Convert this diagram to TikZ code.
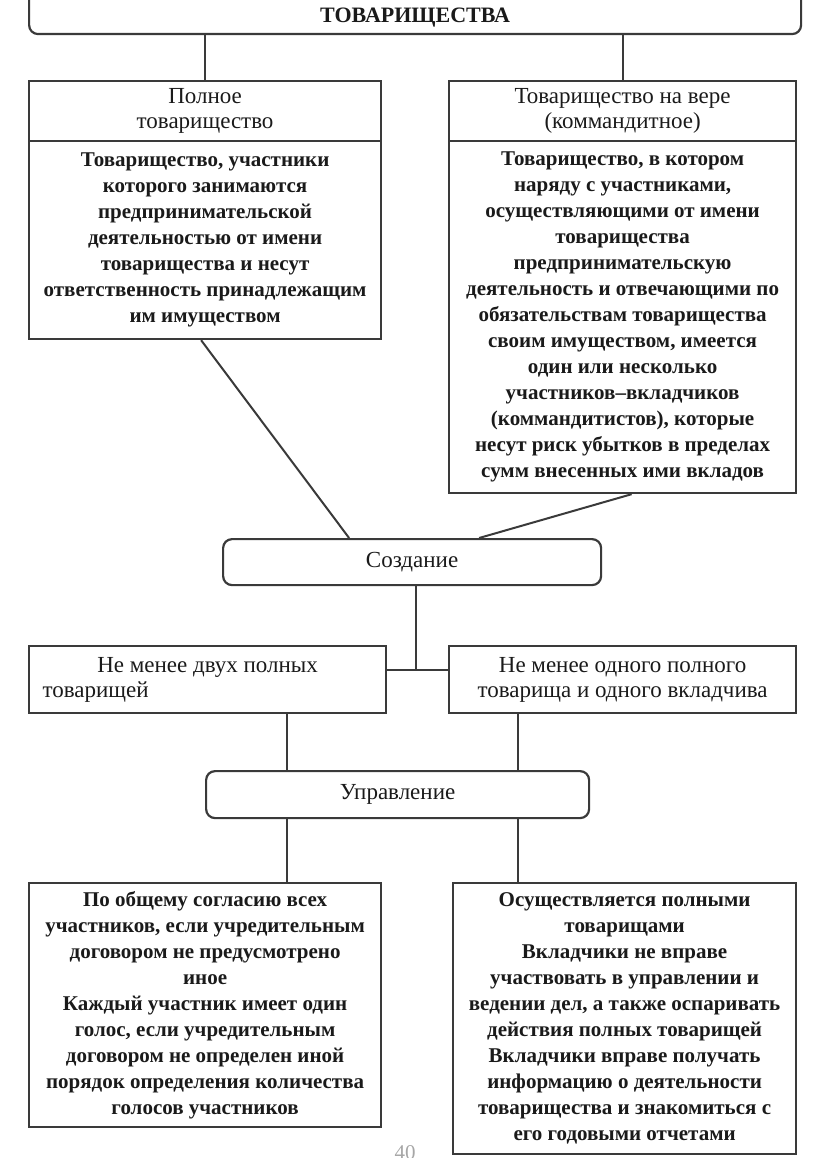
\documentclass[tikz,border=0pt]{standalone}
\usepackage{fontspec}
\setmainfont{Liberation Serif}
\usetikzlibrary{calc}
\definecolor{edge}{HTML}{3A3A3A}
\definecolor{ink}{HTML}{1A1A1A}
\begin{document}
\begin{tikzpicture}[x=1pt,y=-1pt,
  box/.style={draw=edge,line width=2.2pt,text=ink,inner sep=0pt,align=center,anchor=north west},
  rbox/.style={box,rounded corners=9pt},
  hdr/.style={font=\fontsize{23}{25}\selectfont},
  body/.style={font=\fontsize{21}{26}\selectfont\bfseries},
  conn/.style={draw=edge,line width=2pt}]
\useasboundingbox (0,0) rectangle (816,1158);
% top
\node[rbox,minimum width=772pt,minimum height=63pt,text height=43pt,text depth=4pt,font=\fontsize{22}{26}\selectfont\bfseries] (top) at (28,-30) {ТОВАРИЩЕСТВА};
% headers
\node[box,hdr,minimum width=352pt,minimum height=60pt] (h1) at (28,80) {Полное\\товарищество};
\node[box,hdr,minimum width=347pt,minimum height=60pt] (h2) at (448,80) {Товарищество на вере\\(коммандитное)};
% bodies
\node[box,body,minimum width=352pt,minimum height=198pt] (b1) at (28,140) {Товарищество, участники\\которого занимаются\\предпринимательской\\деятельностью от имени\\товарищества и несут\\ответственность принадлежащим\\им имуществом};
\node[box,body,minimum width=347pt,minimum height=352pt] (b2) at (448,140) {Товарищество, в котором\\наряду с участниками,\\осуществляющими от имени\\товарищества\\предпринимательскую\\деятельность и отвечающими по\\обязательствам товарищества\\своим имуществом, имеется\\один или несколько\\участников--вкладчиков\\(коммандитистов), которые\\несут риск убытков в пределах\\сумм внесенных ими вкладов};
% Создание
\node[rbox,hdr,minimum width=378pt,minimum height=46pt] (cr) at (222,538) {Создание};
% conditions
\node[box,hdr,minimum width=357pt,minimum height=67pt] (c1) at (28,645) {\begin{tabular}{@{}l@{}}\makebox[330pt][c]{Не менее двух полных}\\товарищей\end{tabular}};
\node[box,hdr,minimum width=347pt,minimum height=67pt] (c2) at (448,645) {Не менее одного полного\\товарища и одного вкладчива};
% Управление
\node[rbox,hdr,minimum width=383pt,minimum height=47pt] (u) at (205,770) {Управление};
% bottom
\node[box,body,minimum width=352pt,minimum height=244pt] (d1) at (28,882) {По общему согласию всех\\участников, если учредительным\\договором не предусмотрено\\иное\\Каждый участник имеет один\\голос, если учредительным\\договором не определен иной\\порядок определения количества\\голосов участников};
\node[box,body,minimum width=343pt,minimum height=271pt] (d2) at (452,882) {Осуществляется полными\\товарищами\\Вкладчики не вправе\\участвовать в управлении и\\ведении дел, а также оспаривать\\действия полных товарищей\\Вкладчики вправе получать\\информацию о деятельности\\товарищества и знакомиться с\\его годовыми отчетами};
\node[text=gray!70,font=\fontsize{21}{22}\selectfont,anchor=north,inner sep=0pt] (pg) at (405,1145) {40};
% connectors
\coordinate (j) at (416,670);
\coordinate (l1) at (287,0);
\coordinate (l2) at (518,0);
\draw[conn] (h1.north) -- (h1.north |- top.south);
\draw[conn] (h2.north) -- (h2.north |- top.south);
\draw[conn] ([xshift=-4pt]b1.south) -- ([xshift=-63pt]cr.north);
\draw[conn] ([xshift=9pt]b2.south) -- ([xshift=67pt]cr.north);
\draw[conn] (cr.south -| j) -- (j);
\draw[conn] (c1.east |- j) -- (c2.west |- j);
\draw[conn] (c1.south -| l1) -- (u.north -| l1);
\draw[conn] (c2.south -| l2) -- (u.north -| l2);
\draw[conn] (u.south -| l1) -- (d1.north -| l1);
\draw[conn] (u.south -| l2) -- (d2.north -| l2);
\end{tikzpicture}
\end{document}
